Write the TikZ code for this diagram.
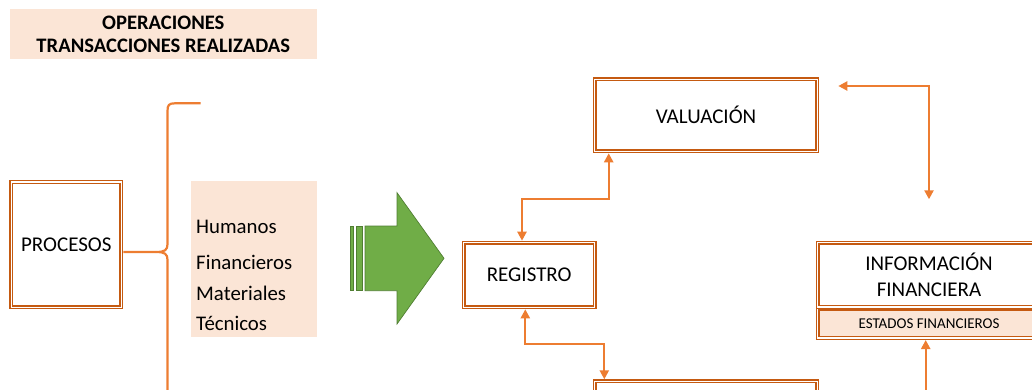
\documentclass[tikz,border=0pt]{standalone}
\usepackage{fontspec}
\setmainfont{Carlito}
\usetikzlibrary{arrows.meta,calc}
\definecolor{boxor}{HTML}{C55A11}
\definecolor{connor}{HTML}{ED7D31}
\definecolor{peach}{HTML}{FBE5D6}
\definecolor{agreen}{HTML}{70AD47}
\definecolor{agreenb}{HTML}{507E32}
\begin{document}
\begin{tikzpicture}[x=1pt,y=1pt,
  >={Triangle[length=9pt,width=9pt]},
  dbox/.style={draw=boxor, line width=1.4pt, double=white, double distance=1.3pt,
    outer sep=2.05pt, inner sep=0pt, fill=white, font=\fontsize{21}{25}\selectfont},
  conn/.style={draw=connor, line width=2.2pt},
  bracel/.style={draw=connor, line width=2.2pt},
  peachbox/.style={fill=peach, inner sep=0pt, outer sep=0pt},
  item/.style={anchor=base west, inner sep=0pt, font=\fontsize{20.8}{25}\selectfont},
  garrow/.style={fill=agreen, draw=agreenb, line width=0.7pt}
]
\useasboundingbox (0,0) rectangle (1032,-390);
\clip (0,0) rectangle (1032,-390);

% title
\node[peachbox, minimum width=306.7pt, minimum height=50pt, align=center,
  font=\bfseries\fontsize{20.6}{23.3}\selectfont] (title) at (163.3,-34)
  {OPERACIONES\\TRANSACCIONES REALIZADAS};

% procesos
\node[dbox, minimum width=109.9pt, minimum height=125.2pt] (proc) at (66.3,-244.65) {PROCESOS};

% brace
\draw[bracel] (200.7,-103.3) -- (175,-103.3) .. controls (169,-103.3) and (167.5,-105) .. (167.5,-111)
  -- (167.5,-244) .. controls (167.5,-250) and (165,-252) .. (156,-252)
  .. controls (165,-252) and (167.5,-254) .. (167.5,-260) -- (167.5,-395);
\draw[bracel] ([yshift=-7.3pt]proc.east) -- (156,-252);

% resources
\node[peachbox, minimum width=125.7pt, minimum height=155.7pt, anchor=north west] (res) at (191,-181) {};
\node[item] (hum) at (196,-233.3) {Humanos};
\node[item] (fin) at (196,-269) {Financieros};
\node[item] (mat) at (196,-300) {Materiales};
\node[item] (tec) at (196,-330.7) {Técnicos};

% green arrow
\draw[garrow] (350,-226) rectangle (353.3,-290.7);
\draw[garrow] (356,-226) rectangle (362.7,-290.7);
\draw[garrow] (365,-226) -- (397,-226) -- (397,-192.7) -- (444,-258.3) -- (397,-324) -- (397,-290.7) -- (365,-290.7) -- cycle;

% right side boxes
\node[dbox, minimum width=222.5pt, minimum height=71.9pt] (val) at (706,-115.3) {VALUACIÓN};
\node[dbox, minimum width=130.9pt, minimum height=64.5pt] (reg) at (529.2,-275) {REGISTRO};
\node[dbox, minimum width=222.5pt, minimum height=71.9pt] (bot) at (706,-417.3) {};
\node[dbox, fill=peach, minimum width=222.5pt, minimum height=29.4pt,
  font=\fontsize{15}{17}\selectfont] (est) at (929,-323.25) {ESTADOS FINANCIEROS};
\node[dbox, minimum width=222.5pt, minimum height=64.2pt, align=center,
  font=\fontsize{21}{26.7}\selectfont] (info) at (929,-274.85) {INFORMACIÓN\\FINANCIERA};

% connectors
\draw[conn,<->] ([xshift=-7.2pt]reg.north) -- ++(0,41.7) -| ([xshift=-97.3pt]val.south);
\draw[conn,<->] ([xshift=-3.9pt]reg.south) -- ++(0,-34.7) -| ([xshift=-101.7pt]bot.north);
\draw[conn,<->,shorten <=19pt,shorten >=41.4pt] ([yshift=-8.7pt]val.north east) -| (info.north);
\coordinate (e0) at (925.7,-395);
\draw[conn,->] (e0) -- (e0 |- est.south);
\end{tikzpicture}
\end{document}
